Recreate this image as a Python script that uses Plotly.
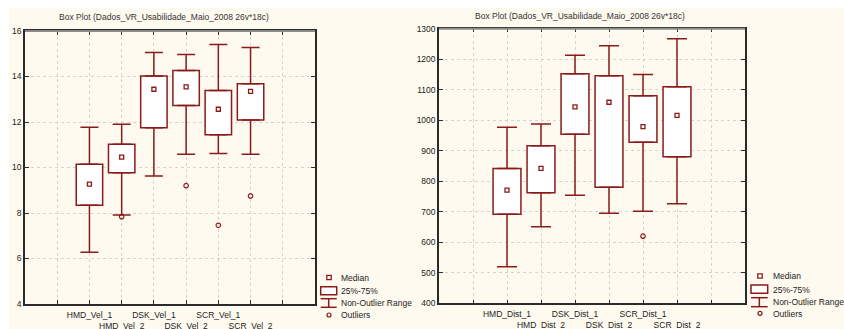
import plotly.graph_objects as go

# ---- data: box-plot summaries -------------------------------------------
vel_labels = ["HMD_Vel_1", "HMD_Vel_2", "DSK_Vel_1", "DSK_Vel_2", "SCR_Vel_1", "SCR_Vel_2"]
vel_lower = [6.27, 7.91, 9.63, 10.58, 10.61, 10.58]
vel_q1 = [8.34, 9.77, 11.75, 12.73, 11.44, 12.09]
vel_median = [9.27, 10.46, 13.44, 13.54, 12.56, 13.35]
vel_q3 = [10.14, 11.02, 14.02, 14.26, 13.39, 13.68]
vel_upper = [11.77, 11.90, 15.06, 14.97, 15.41, 15.27]
vel_out_x = ["HMD_Vel_2", "DSK_Vel_2", "SCR_Vel_1", "SCR_Vel_2"]
vel_out_y = [7.84, 9.20, 7.46, 8.75]

dist_labels = ["HMD_Dist_1", "HMD_Dist_2", "DSK_Dist_1", "DSK_Dist_2", "SCR_Dist_1", "SCR_Dist_2"]
dist_lower = [520, 651, 754, 695, 702, 726]
dist_q1 = [692, 762, 954, 780, 928, 880]
dist_median = [771, 842, 1044, 1059, 979, 1016]
dist_q3 = [842, 916, 1152, 1146, 1080, 1110]
dist_upper = [977, 988, 1213, 1244, 1150, 1267]
dist_out_x = ["SCR_Dist_1"]
dist_out_y = [620]

title_text = "Box Plot (Dados_VR_Usabilidade_Maio_2008 26v*18c)"
legend_items = ["Median", "25%-75%", "Non-Outlier Range", "Outliers"]

RED = "#8b1a1a"
CREAM = "#fffaf0"
FONT = "Liberation Sans, Arial, sans-serif"
W, H = 844, 329


def px(x):
    return x / W


def py(y):
    return 1 - y / H


fig = go.Figure()


def add_panel(labels, lower, q1, med, q3, upper, out_x, out_y, xa, ya, cap):
    pos = {lab: i + 2 for i, lab in enumerate(labels)}
    xs = [pos[l] for l in labels]
    n = len(labels)
    # interquartile boxes
    fig.add_trace(go.Bar(
        x=xs, base=q1, y=[b - a for a, b in zip(q1, q3)], width=0.82,
        marker=dict(color="white", line=dict(color=RED, width=1.5)),
        xaxis=xa, yaxis=ya, showlegend=False, hoverinfo="skip"))
    # upper whiskers (from q3 up to the upper non-outlier value)
    fig.add_trace(go.Scatter(
        x=xs, y=upper, mode="markers", marker=dict(size=1, color="rgba(0,0,0,0)"),
        error_y=dict(type="data", symmetric=False, array=[0] * n,
                     arrayminus=[u - t for u, t in zip(upper, q3)],
                     color=RED, thickness=1.5, width=cap),
        xaxis=xa, yaxis=ya, showlegend=False, hoverinfo="skip"))
    # lower whiskers
    fig.add_trace(go.Scatter(
        x=xs, y=lower, mode="markers", marker=dict(size=1, color="rgba(0,0,0,0)"),
        error_y=dict(type="data", symmetric=False, arrayminus=[0] * n,
                     array=[b - l for b, l in zip(q1, lower)],
                     color=RED, thickness=1.5, width=cap),
        xaxis=xa, yaxis=ya, showlegend=False, hoverinfo="skip"))
    # medians
    fig.add_trace(go.Scatter(
        x=xs, y=med, mode="markers",
        marker=dict(symbol="square-open", size=4, color=RED, line=dict(width=1.3)),
        xaxis=xa, yaxis=ya, showlegend=False, hoverinfo="skip"))
    # outliers
    fig.add_trace(go.Scatter(
        x=[pos[l] for l in out_x], y=out_y, mode="markers",
        marker=dict(symbol="circle-open", size=4.5, color=RED, line=dict(width=1.2)),
        xaxis=xa, yaxis=ya, showlegend=False, hoverinfo="skip"))


add_panel(vel_labels, vel_lower, vel_q1, vel_median, vel_q3, vel_upper,
          vel_out_x, vel_out_y, "x", "y", 9)
add_panel(dist_labels, dist_lower, dist_q1, dist_median, dist_q3, dist_upper,
          dist_out_x, dist_out_y, "x2", "y2", 10)


def staggered(labels):
    txt = [""]
    for i, lab in enumerate(labels):
        txt.append(lab if i % 2 == 0 else "\u00a0<br>" + lab)
    txt.append("")
    return txt


axis_common = dict(
    showgrid=True, gridcolor="#d4d4d4", griddash="dot", gridwidth=1,
    showline=True, linecolor="#2a2a2a", linewidth=1.5, mirror="ticks",
    ticks="inside", ticklen=4, tickcolor="#2a2a2a", tickwidth=1,
    zeroline=False, automargin=False, tickangle=0,
    tickfont=dict(family=FONT, size=8.5, color="#222"),
)

fig.update_layout(
    width=W, height=H, margin=dict(l=0, r=0, t=0, b=0),
    paper_bgcolor="white", plot_bgcolor="white", showlegend=False,
    barmode="overlay",
    xaxis=dict(domain=[px(25), px(315)], range=[0, 9], tickvals=list(range(1, 9)),
               ticktext=staggered(vel_labels), anchor="y", ticklabelstandoff=2,
               **axis_common),
    yaxis=dict(domain=[py(304), py(31)], range=[4, 16], dtick=2, anchor="x", **axis_common),
    xaxis2=dict(domain=[px(439), px(745)], range=[0, 9], tickvals=list(range(1, 9)),
                ticktext=staggered(dist_labels), anchor="y2", ticklabelstandoff=2,
                **axis_common),
    yaxis2=dict(domain=[py(303.3), py(28.7)], range=[400, 1300], dtick=100, anchor="x2",
                **axis_common),
)

shapes = [
    # cream panel background
    dict(type="rect", xref="paper", yref="paper", x0=px(9), x1=1, y0=0, y1=py(8),
         fillcolor=CREAM, line=dict(width=0), layer="below"),
    # grey top borders of the plotting areas
    dict(type="line", xref="paper", yref="paper", x0=px(25), x1=px(315), y0=py(31), y1=py(31),
         line=dict(color="#8a8a8a", width=2)),
    dict(type="line", xref="paper", yref="paper", x0=px(439), x1=px(745), y0=py(28.7),
         y1=py(28.7), line=dict(color="#8a8a8a", width=2)),
]
annotations = [
    dict(text=title_text, xref="paper", yref="paper", x=px(164), y=py(17), showarrow=False,
         xanchor="center", yanchor="middle", font=dict(family=FONT, size=8.5, color="#333")),
    dict(text=title_text, xref="paper", yref="paper", x=px(580), y=py(16), showarrow=False,
         xanchor="center", yanchor="middle", font=dict(family=FONT, size=8.5, color="#333")),
]


def add_legend(cx, left, right, text_x, rows, box_y, wh_y, circ_y):
    r = 2.2
    shapes.append(dict(type="rect", xref="paper", yref="paper",
                       x0=px(cx - r), x1=px(cx + r), y0=py(rows[0] + r), y1=py(rows[0] - r),
                       line=dict(color=RED, width=1.3), fillcolor="white"))
    shapes.append(dict(type="rect", xref="paper", yref="paper",
                       x0=px(left), x1=px(right), y0=py(box_y[1]), y1=py(box_y[0]),
                       line=dict(color=RED, width=1.5), fillcolor="white"))
    mid = (left + right) / 2
    for seg in [((left, wh_y[0]), (right, wh_y[0])), ((mid, wh_y[0]), (mid, wh_y[1])),
                ((left, wh_y[1]), (right, wh_y[1]))]:
        shapes.append(dict(type="line", xref="paper", yref="paper",
                           x0=px(seg[0][0]), y0=py(seg[0][1]), x1=px(seg[1][0]), y1=py(seg[1][1]),
                           line=dict(color=RED, width=1.5)))
    shapes.append(dict(type="circle", xref="paper", yref="paper",
                       x0=px(cx - 2), x1=px(cx + 2), y0=py(circ_y + 2), y1=py(circ_y - 2),
                       line=dict(color=RED, width=1.2)))
    for lab, ry in zip(legend_items, rows):
        annotations.append(dict(text=lab, xref="paper", yref="paper", x=px(text_x), y=py(ry),
                                showarrow=False, xanchor="left", yanchor="middle",
                                font=dict(family=FONT, size=8.5, color="#222")))


add_legend(329, 320.7, 336.7, 339, [277.5, 291, 303.3, 315], (286.7, 294.7), (298.7, 307.3), 315)
add_legend(760, 751, 767.7, 771, [276, 289.5, 302, 313.5], (285, 293.3), (297.7, 306.7), 313.3)

fig.update_layout(shapes=shapes, annotations=annotations)
fig.write_html("out.html")
